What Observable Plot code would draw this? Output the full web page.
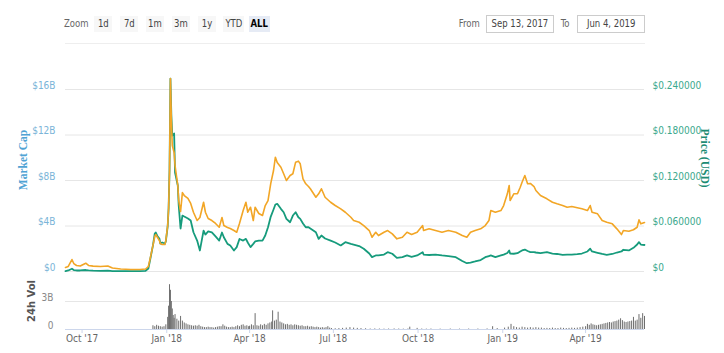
<!DOCTYPE html>
<html><head><meta charset="utf-8">
<script src="https://cdn.jsdelivr.net/npm/d3@7"></script>
<script src="https://cdn.jsdelivr.net/npm/@observablehq/plot@0.6"></script>
<style>
html,body{margin:0;padding:0;background:#fff;}
body{width:724px;height:353px;position:relative;overflow:hidden;font-family:"DejaVu Sans Condensed","Liberation Sans",sans-serif;}
.abs{position:absolute;}
.t{display:inline-block;transform:scaleX(0.86);transform-origin:center;white-space:nowrap;}
.lbl{font-size:11px;color:#666;line-height:16px;}
.btn{font-size:11px;color:#444;background:#f7f7f7;height:16px;line-height:16px;text-align:center;}
.btn.sel{background:#e6ebf5;color:#000;font-weight:bold;}
.box{font-size:11px;color:#444;border:1px solid #cccccc;height:18px;line-height:16px;text-align:center;box-sizing:border-box;}
.title{font-family:"Liberation Serif","DejaVu Serif",serif;font-weight:bold;font-size:11.5px;white-space:nowrap;}
</style></head><body>
<div class="abs lbl" style="left:62px;top:16px;"><span class="t">Zoom</span></div>
<div class="abs btn" style="left:94px;top:16px;width:18px;"><span class="t">1d</span></div>
<div class="abs btn" style="left:120px;top:16px;width:18px;"><span class="t">7d</span></div>
<div class="abs btn" style="left:146px;top:16px;width:18px;"><span class="t">1m</span></div>
<div class="abs btn" style="left:172px;top:16px;width:18px;"><span class="t">3m</span></div>
<div class="abs btn" style="left:198px;top:16px;width:18px;"><span class="t">1y</span></div>
<div class="abs btn" style="left:223px;top:16px;width:21px;"><span class="t">YTD</span></div>
<div class="abs btn sel" style="left:249px;top:16px;width:21px;"><span class="t">ALL</span></div>
<div class="abs lbl" style="left:457px;top:16px;"><span class="t">From</span></div>
<div class="abs box" style="left:486px;top:15px;width:68px;"><span class="t">Sep 13, 2017</span></div>
<div class="abs lbl" style="left:560px;top:16px;"><span class="t">To</span></div>
<div class="abs box" style="left:577px;top:15px;width:68px;"><span class="t">Jun 4, 2019</span></div>
<div class="abs" style="left:65px;top:43px;width:580px;height:1px;background:#eeeeee;"></div>
<div id="main" class="abs" style="left:0;top:60px;"></div>
<div id="vol" class="abs" style="left:0;top:280px;"></div>
<div class="abs title" style="left:23px;top:160px;color:#4fa3d4;transform:translate(-50%,-50%) rotate(-90deg);">Market Cap</div>
<div class="abs title" style="left:705px;top:158px;color:#1c8c74;transform:translate(-50%,-50%) rotate(90deg);">Price (USD)</div>
<div class="abs" style="left:31px;top:301px;color:#555;font-family:'DejaVu Sans',sans-serif;font-weight:bold;font-size:10px;white-space:nowrap;transform:translate(-50%,-50%) rotate(-90deg);">24h Vol</div>
<script>
// ---- data ----
const dates = [
 "2017-09-13","2017-09-16","2017-09-20","2017-09-22","2017-09-25","2017-09-29","2017-10-05","2017-10-08","2017-10-13","2017-10-21","2017-10-29","2017-11-03","2017-11-12","2017-11-23","2017-12-03","2017-12-09","2017-12-12","2017-12-14","2017-12-17","2017-12-19","2017-12-20","2017-12-22","2017-12-24","2017-12-25","2017-12-27","2017-12-30","2017-12-31",
 "2018-01-02","2018-01-03","2018-01-04","2018-01-05","2018-01-06","2018-01-07","2018-01-09","2018-01-10","2018-01-13","2018-01-14","2018-01-16","2018-01-18","2018-01-20","2018-01-24","2018-01-27","2018-01-30",
 "2018-02-03","2018-02-06","2018-02-10","2018-02-12","2018-02-15","2018-02-19","2018-02-23","2018-02-27","2018-03-02","2018-03-04","2018-03-08","2018-03-11","2018-03-15","2018-03-18","2018-03-21","2018-03-25","2018-03-28","2018-03-30",
 "2018-04-02","2018-04-05","2018-04-07","2018-04-11","2018-04-15","2018-04-18","2018-04-21","2018-04-24","2018-04-27","2018-04-29","2018-05-01","2018-05-05","2018-05-08","2018-05-11","2018-05-15","2018-05-18","2018-05-21","2018-05-24","2018-05-26","2018-05-29",
 "2018-06-01","2018-06-04","2018-06-06","2018-06-12","2018-06-15","2018-06-18","2018-06-22","2018-06-28","2018-07-03","2018-07-09","2018-07-14","2018-07-20","2018-07-23","2018-07-29","2018-08-03","2018-08-09","2018-08-12","2018-08-16","2018-08-19","2018-08-25","2018-08-29","2018-09-03","2018-09-08","2018-09-14","2018-09-19","2018-09-24","2018-09-30",
 "2018-10-06","2018-10-07","2018-10-13","2018-10-20","2018-10-27","2018-11-03","2018-11-11","2018-11-18","2018-11-23","2018-11-27","2018-12-02","2018-12-08","2018-12-13","2018-12-17","2018-12-19","2018-12-24","2018-12-30",
 "2019-01-02","2019-01-06","2019-01-08","2019-01-09","2019-01-13","2019-01-17","2019-01-20","2019-01-22","2019-01-25","2019-01-28","2019-01-31","2019-02-04","2019-02-06","2019-02-11","2019-02-18","2019-02-24","2019-03-01","2019-03-07","2019-03-12","2019-03-17","2019-03-23","2019-03-28",
 "2019-04-03","2019-04-06","2019-04-08","2019-04-14","2019-04-19","2019-04-24","2019-04-30","2019-05-05","2019-05-10","2019-05-12","2019-05-18","2019-05-23","2019-05-27","2019-05-29","2019-05-31","2019-06-04"
];
// orange series, in left-axis units ($B)
const orangeSeries = [
 0.35,0.44,1.05,0.70,0.53,0.48,0.73,0.53,0.47,0.44,0.48,0.31,0.22,0.18,0.18,0.22,0.44,1.14,2.29,3.08,3.25,2.99,2.72,2.46,2.37,2.37,2.72,
 4.04,5.54,8.88,16.96,13.27,11.08,10.46,9.32,7.56,6.24,5.27,6.94,6.68,6.42,5.98,5.21,
 4.48,4.75,6.09,5.21,4.66,4.48,4.22,3.89,4.75,4.04,3.87,3.78,3.60,3.45,4.22,5.36,6.09,5.21,
 5.65,4.48,5.65,5.10,4.92,5.80,6.24,7.74,8.88,10.05,9.58,9.17,8.59,8.00,8.44,8.59,9.61,9.70,9.47,8.15,
 7.71,7.47,7.27,6.53,6.83,7.27,6.53,6.09,5.80,5.51,5.21,4.77,4.48,4.33,4.04,3.60,3.01,3.45,3.16,3.45,3.60,3.31,2.87,3.01,3.45,3.25,3.45,
 4.04,3.60,3.75,3.60,3.45,3.60,3.45,3.16,3.01,3.45,3.60,3.75,4.04,4.48,5.36,5.21,5.36,
 5.80,6.83,7.56,6.24,6.83,6.83,7.41,7.85,8.44,7.71,7.74,7.47,7.12,6.68,6.39,6.09,5.95,5.80,5.65,5.71,5.60,5.51,
 5.36,5.80,5.21,5.07,4.48,4.33,4.19,3.75,3.25,3.60,3.54,3.67,3.89,4.54,4.19,4.31
];
// green series: market cap ($B)
const marketCapB = [
 0.03,0.09,0.24,0.13,0.09,0.09,0.13,0.09,0.07,0.06,0.07,0.04,0.04,0.04,0.04,0.06,0.26,1.05,2.29,3.34,3.43,3.08,2.90,2.46,2.55,2.46,2.64,
 3.96,5.54,8.88,16.96,13.71,11.95,12.13,8.70,7.56,5.80,3.78,4.92,4.83,4.66,4.48,3.45,
 2.72,1.85,3.60,3.25,3.52,3.43,3.08,2.72,3.43,3.01,2.43,2.29,1.85,2.14,2.86,2.72,2.87,2.55,
 2.14,2.43,2.64,2.72,2.72,3.16,3.89,4.83,5.45,5.89,5.95,5.51,5.21,4.63,4.33,4.92,5.21,4.77,4.63,4.22,
 3.89,3.89,3.78,3.45,2.87,3.16,2.90,2.72,2.55,2.29,2.58,2.43,2.37,2.24,2.00,1.58,1.26,1.41,1.41,1.49,1.70,1.56,1.20,1.26,1.41,1.29,1.41,
 1.70,1.49,1.45,1.49,1.41,1.36,1.26,0.92,0.73,0.79,0.88,1.01,1.26,1.36,1.41,1.26,1.41,
 1.49,1.63,1.85,1.58,1.56,1.61,1.76,1.85,1.93,1.80,1.71,1.70,1.67,1.61,1.70,1.58,1.54,1.47,1.49,1.49,1.52,1.58,
 1.76,2.00,1.76,1.64,1.54,1.47,1.54,1.67,1.76,1.91,1.85,2.08,2.37,2.58,2.37,2.33
];
const volDates = [
 "2017-12-17","2017-12-19","2017-12-21","2017-12-23","2017-12-25","2017-12-27","2017-12-29","2017-12-31",
 "2018-01-02","2018-01-03","2018-01-04","2018-01-05","2018-01-06","2018-01-07","2018-01-08","2018-01-09","2018-01-10","2018-01-12","2018-01-14","2018-01-16","2018-01-18","2018-01-20","2018-01-22","2018-01-24","2018-01-26","2018-01-28","2018-01-30",
 "2018-02-01","2018-02-03","2018-02-05","2018-02-07","2018-02-09","2018-02-11","2018-02-13","2018-02-15","2018-02-17","2018-02-19","2018-02-21","2018-02-23","2018-02-25","2018-02-27",
 "2018-03-01","2018-03-03","2018-03-05","2018-03-07","2018-03-09","2018-03-11","2018-03-13","2018-03-15","2018-03-17","2018-03-19","2018-03-21","2018-03-23","2018-03-25","2018-03-27","2018-03-29","2018-03-31",
 "2018-04-01","2018-04-03","2018-04-05","2018-04-07","2018-04-09","2018-04-11","2018-04-13","2018-04-15","2018-04-17","2018-04-19","2018-04-21","2018-04-23","2018-04-25","2018-04-26","2018-04-28","2018-04-30",
 "2018-05-02","2018-05-04","2018-05-06","2018-05-08","2018-05-10","2018-05-12","2018-05-14","2018-05-16","2018-05-18","2018-05-20","2018-05-22","2018-05-24","2018-05-26","2018-05-28","2018-05-30",
 "2018-06-01","2018-06-03","2018-06-05","2018-06-07","2018-06-09","2018-06-11","2018-06-13","2018-06-15","2018-06-17","2018-06-19","2018-06-21","2018-06-23","2018-06-25","2018-06-27","2018-06-29",
 "2018-07-03","2018-07-07","2018-07-11","2018-07-15","2018-07-19","2018-07-23","2018-07-27","2018-07-31",
 "2018-08-05","2018-08-10","2018-08-15","2018-08-20","2018-08-25","2018-08-30",
 "2018-09-05","2018-09-10","2018-09-15","2018-09-20","2018-09-22","2018-09-30",
 "2018-10-05","2018-10-10","2018-10-15","2018-10-25","2018-11-05","2018-11-15","2018-11-25",
 "2018-12-05","2018-12-15","2018-12-21","2018-12-26",
 "2019-01-03","2019-01-07","2019-01-10","2019-01-13","2019-01-16","2019-01-19","2019-01-22","2019-01-25","2019-01-28","2019-01-31",
 "2019-02-03","2019-02-06","2019-02-09","2019-02-12","2019-02-15","2019-02-18","2019-02-21","2019-02-24","2019-02-27",
 "2019-03-02","2019-03-05","2019-03-08","2019-03-11","2019-03-14","2019-03-17","2019-03-20","2019-03-23","2019-03-26","2019-03-29",
 "2019-04-01","2019-04-03","2019-04-05","2019-04-07","2019-04-09","2019-04-11","2019-04-13","2019-04-15","2019-04-17","2019-04-19","2019-04-21","2019-04-23","2019-04-25","2019-04-27","2019-04-29",
 "2019-05-01","2019-05-03","2019-05-05","2019-05-07","2019-05-09","2019-05-11","2019-05-13","2019-05-15","2019-05-17","2019-05-19","2019-05-21","2019-05-23","2019-05-25","2019-05-27","2019-05-29","2019-05-31","2019-06-02","2019-06-04"
];
const volumeB = [
 0.4,0.3,0.45,0.35,0.3,0.25,0.3,0.5,
 1.3,2.5,4.8,4.2,3.0,2.2,1.5,1.2,1.6,1.1,0.9,1.4,0.9,0.7,0.6,0.5,0.45,0.4,0.35,
 0.4,0.35,0.45,0.3,0.25,0.2,0.2,0.25,0.2,0.2,0.15,0.2,0.25,0.3,
 0.3,0.5,0.35,0.25,0.2,0.2,0.25,0.2,0.3,0.4,0.3,0.45,0.5,0.35,0.4,0.3,
 0.35,0.5,0.4,1.7,0.4,0.35,0.5,0.4,0.55,0.45,0.6,0.7,0.8,2.0,0.9,1.0,
 1.85,0.8,0.7,0.6,0.5,0.55,0.45,0.5,0.4,0.5,0.45,0.4,0.35,0.4,0.3,
 0.3,0.35,0.25,0.3,0.25,0.2,0.25,0.2,0.15,0.2,0.15,0.2,0.3,0.15,0.1,
 0.08,0.1,0.12,0.15,0.2,0.15,0.12,0.1,
 0.08,0.05,0.06,0.05,0.04,0.05,
 0.06,0.05,0.04,0.05,0.25,0.12,
 0.05,0.04,0.05,0.04,0.05,0.04,0.05,
 0.05,0.06,0.3,0.1,
 0.15,0.25,0.55,0.3,0.2,0.15,0.25,0.2,0.15,0.2,
 0.15,0.2,0.15,0.15,0.1,0.12,0.1,0.15,0.1,
 0.1,0.15,0.12,0.1,0.12,0.15,0.12,0.15,0.2,0.25,
 0.3,0.55,0.45,0.6,0.5,0.45,0.4,0.45,0.5,0.55,0.6,0.65,0.7,0.75,0.7,
 0.8,0.85,0.9,1.0,1.15,0.95,0.8,0.75,0.8,0.85,0.9,1.3,0.9,1.0,1.6,1.2,1.7,1.4
];
const capTicks = [0, 4, 8, 12, 16];
const capTickLabels = ["$0", "$4B", "$8B", "$12B", "$16B"];
const priceTickLabels = ["$0", "$0.060000", "$0.120000", "$0.180000", "$0.240000"];
const volTicks = [0, 3];
const volTickLabels = ["0", "3B"];
const xTickDates = ["2017-10-01","2018-01-01","2018-04-01","2018-07-01","2018-10-01","2019-01-01","2019-04-01"];
const xTickLabels = ["Oct '17","Jan '18","Apr '18","Jul '18","Oct '18","Jan '19","Apr '19"];
const rangeStart = "2017-09-13", rangeEnd = "2019-06-04";

// ---- build ----
const parse = d3.utcParse("%Y-%m-%d");
const rows = dates.map((d, i) => ({date: parse(d), cap: marketCapB[i], alt: orangeSeries[i]}));
const vrows = volDates.map((d, i) => ({date: parse(d), v: volumeB[i]}));
const xDomain = [parse(rangeStart), parse(rangeEnd)];
const xTicks = xTickDates.map(parse);
const font = '"DejaVu Sans Condensed","Liberation Sans",sans-serif';

const main = Plot.plot({
  width: 724, height: 220,
  marginLeft: 65, marginRight: 80, marginTop: 29, marginBottom: 9,
  style: {fontFamily: font, fontSize: "10px", background: "transparent", overflow: "visible"},
  x: {type: "utc", domain: xDomain, axis: null},
  y: {domain: [0, 16], axis: null},
  marks: [
    Plot.gridY(capTicks, {stroke: "#e6e6e6", strokeOpacity: 1}),
    Plot.axisY(capTicks, {anchor: "left", tickSize: 0, tickPadding: 10, dy: -4, fill: "#7ab4d8", label: null,
      tickFormat: d => capTickLabels[capTicks.indexOf(d)]}),
    Plot.axisY(capTicks, {anchor: "right", tickSize: 0, tickPadding: 8, dy: -4, fill: "#3aa88c", label: null,
      tickFormat: d => priceTickLabels[capTicks.indexOf(d)]}),
    Plot.lineY(rows, {x: "date", y: "cap", stroke: "#169b7c", strokeWidth: 1.8}),
    Plot.lineY(rows, {x: "date", y: "alt", stroke: "#f2a626", strokeWidth: 1.6})
  ]
});
document.getElementById("main").append(main);

const vol = Plot.plot({
  width: 724, height: 73,
  marginLeft: 65, marginRight: 80, marginTop: 21, marginBottom: 24,
  style: {fontFamily: font, fontSize: "10px", background: "transparent", overflow: "visible"},
  x: {type: "utc", domain: xDomain, axis: null},
  y: {domain: [0, 3], axis: null},
  marks: [
    Plot.gridY([3], {stroke: "#e6e6e6", strokeOpacity: 1}),
    Plot.ruleX(vrows, {x: "date", y1: 0, y2: "v", stroke: "#6e6e6e", strokeWidth: 1}),
    Plot.ruleY([0], {stroke: "#ccd6eb"}),
    Plot.axisY(volTicks, {anchor: "left", tickSize: 0, tickPadding: 12, dy: -4, fill: "#888", label: null,
      tickFormat: d => volTickLabels[volTicks.indexOf(d)]}),
    Plot.axisX(xTicks, {anchor: "bottom", tickSize: 4, tickPadding: 1, stroke: "#ccd6eb", fill: "#666", label: null,
      tickFormat: d => xTickLabels[xTicks.findIndex(t => +t === +d)]})
  ]
});
document.getElementById("vol").append(vol);
</script>
</body></html>
